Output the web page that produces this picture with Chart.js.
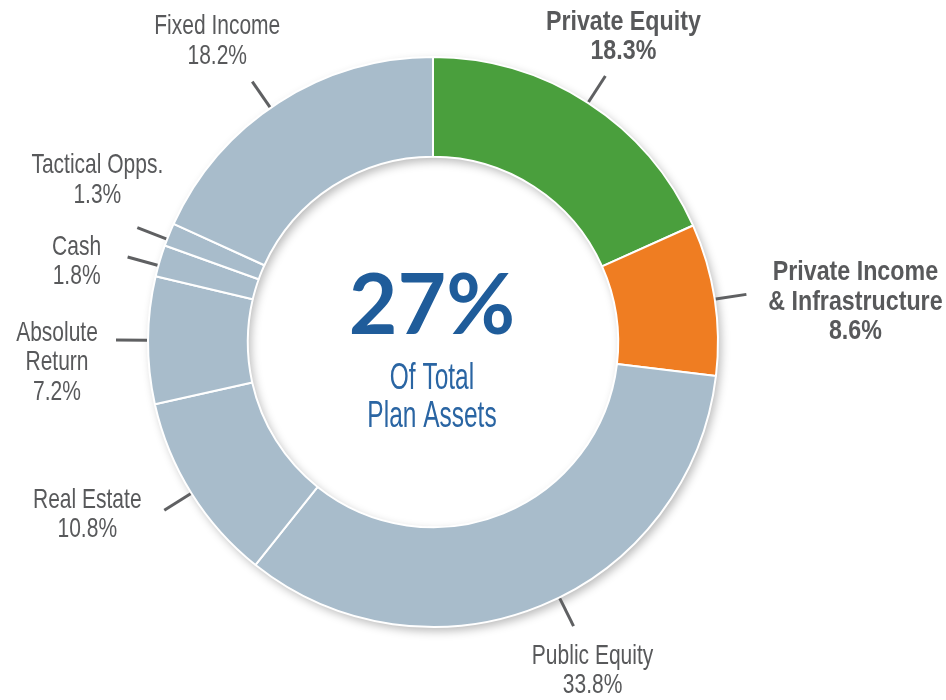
<!DOCTYPE html>
<html>
<head>
<meta charset="utf-8">
<script src="https://cdn.jsdelivr.net/npm/chart.js@4.4.1/dist/chart.umd.min.js"></script>
<style>
  html, body { margin: 0; padding: 0; background: #fff; }
  #wrap { width: 946px; height: 700px; }
</style>
</head>
<body>
<div id="wrap"><canvas id="allocChart" width="946" height="700"></canvas></div>
<script>
// asset classes, clockwise from the top
var categories = ['Private Equity', 'Private Income & Infrastructure', 'Public Equity', 'Real Estate',
                  'Absolute Return', 'Cash', 'Tactical Opps.', 'Fixed Income'];
var shares = [18.3, 8.6, 33.8, 10.8, 7.2, 1.8, 1.3, 18.2];
var labelLines = [['Private Equity'], ['Private Income', '& Infrastructure'], ['Public Equity'], ['Real Estate'],
                  ['Absolute', 'Return'], ['Cash'], ['Tactical Opps.'], ['Fixed Income']];
var highlighted = [true, true, false, false, false, false, false, false];
var centerValue = '27%';
var centerLines = ['Of Total', 'Plan Assets'];

var green = '#4a9f3d';
var orange = '#ef7d22';
var slate = '#a8bccb';
var sliceColors = [green, orange, slate, slate, slate, slate, slate, slate];

// leader line nudge (deg) and text offset from the leader line end
var labelLayout = [
  { nudge: 0,  dx: 18,  dy: -54 },
  { nudge: 0,  dx: 109, dy: -22 },
  { nudge: -4, dx: 19,  dy: 30 },
  { nudge: 0,  dx: -77, dy: -10 },
  { nudge: 0,  dx: -59, dy: -7 },
  { nudge: -1, dx: -51, dy: -10 },
  { nudge: -1, dx: -40, dy: -62 },
  { nudge: -2, dx: -35, dy: -55 }
];

var sans = '"Liberation Sans", Arial, sans-serif';

// the source uses a condensed face, so squeeze the text horizontally
function drawText(ctx, txt, x, y, font, color, sx) {
  ctx.save();
  ctx.translate(x, y);
  ctx.scale(sx, 1);
  ctx.font = font;
  ctx.fillStyle = color;
  ctx.textAlign = 'center';
  ctx.textBaseline = 'middle';
  ctx.fillText(txt, 0, 0);
  ctx.restore();
}

var ringShadow = {
  id: 'ringShadow',
  beforeDatasetsDraw: function(chart) {
    var arc = chart.getDatasetMeta(0).data[0];
    if (!arc) return;
    var ctx = chart.ctx;
    ctx.save();
    ctx.shadowColor = 'rgba(0,0,0,0.28)';
    ctx.shadowBlur = 10;
    ctx.shadowOffsetX = 3;
    ctx.shadowOffsetY = 4;
    ctx.beginPath();
    ctx.arc(arc.x, arc.y, arc.outerRadius, 0, Math.PI * 2);
    ctx.arc(arc.x, arc.y, arc.innerRadius, 0, Math.PI * 2, true);
    ctx.fillStyle = slate;
    ctx.fill();
    ctx.restore();
  }
};

var outsideLabels = {
  id: 'outsideLabels',
  afterDraw: function(chart) {
    var ctx = chart.ctx;
    var arcs = chart.getDatasetMeta(0).data;
    arcs.forEach(function(arc, i) {
      var lay = labelLayout[i];
      var a = (arc.startAngle + arc.endAngle) / 2 + lay.nudge * Math.PI / 180;
      var r0 = arc.outerRadius + 1, r1 = arc.outerRadius + 32;
      var x1 = arc.x + r1 * Math.cos(a), y1 = arc.y + r1 * Math.sin(a);
      ctx.save();
      ctx.strokeStyle = '#5f6062';
      ctx.lineWidth = 3;
      ctx.beginPath();
      ctx.moveTo(arc.x + r0 * Math.cos(a), arc.y + r0 * Math.sin(a));
      ctx.lineTo(x1, y1);
      ctx.stroke();
      ctx.restore();

      var lines = labelLines[i].concat([shares[i].toFixed(1) + '%']);
      var font = (highlighted[i] ? 'bold ' : '') + '28px ' + sans;
      var sx = highlighted[i] ? 0.83 : 0.75;
      lines.forEach(function(t, k) {
        drawText(ctx, t, x1 + lay.dx, y1 + lay.dy + k * 29.5, font, '#58595b', sx);
      });
    });

    var c = arcs[0];
    drawText(ctx, centerValue, c.x - 1, c.y - 35, 'bold 84px Lato, "Open Sans", sans-serif', '#1f5c9a', 1);
    centerLines.forEach(function(t, k) {
      drawText(ctx, t, c.x - 1, c.y + 37 + k * 38, '36px ' + sans, '#2a65a3', 0.68);
    });
  }
};

var ctx = document.getElementById('allocChart').getContext('2d');
var allocChart = new Chart(ctx, {
  type: 'doughnut',
  data: {
    labels: categories,
    datasets: [{
      data: shares,
      backgroundColor: sliceColors,
      borderColor: '#ffffff',
      borderWidth: 2
    }]
  },
  options: {
    responsive: false,
    animation: false,
    cutout: '65%',
    layout: { padding: { left: 147, right: 227, top: 56, bottom: 72 } },
    plugins: {
      legend: { display: false },
      tooltip: { enabled: false }
    }
  },
  plugins: [ringShadow, outsideLabels]
});
</script>
</body>
</html>
